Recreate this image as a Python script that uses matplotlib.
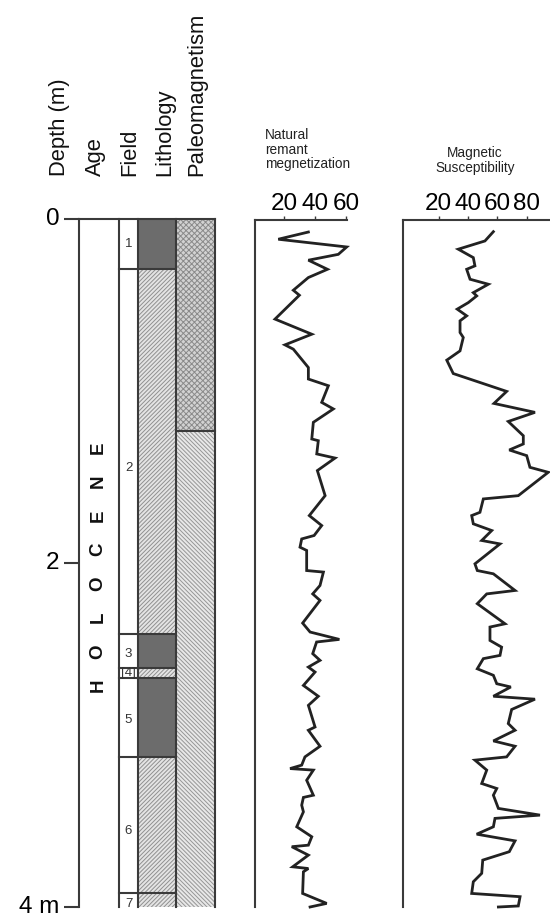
import matplotlib
matplotlib.use('Agg')
import matplotlib.pyplot as plt
from matplotlib.patches import Rectangle

plt.rcParams['font.family'] = ['Liberation Sans', 'DejaVu Sans']
plt.rcParams['hatch.linewidth'] = 0.7

# ---------------- data ----------------
nrm_depth = [0.07, 0.112, 0.157, 0.20, 0.234, 0.287, 0.335, 0.409, 0.438, 0.577, 0.665, 0.727,
             0.752, 0.859, 0.926, 0.965, 1.062, 1.10, 1.178, 1.275, 1.285, 1.362, 1.386, 1.459,
             1.605, 1.721, 1.779, 1.837, 1.857, 1.905, 1.924, 2.041, 2.05, 2.128, 2.177, 2.215,
             2.347, 2.399, 2.442, 2.457, 2.525, 2.564, 2.603, 2.632, 2.71, 2.773, 2.826, 2.952,
             2.971, 3.064, 3.126, 3.174, 3.194, 3.203, 3.262, 3.349, 3.362, 3.407, 3.446, 3.533,
             3.591, 3.64, 3.649, 3.698, 3.766, 3.776, 3.795, 3.921, 3.979, 4.0]
nrm_value = [35.7, 16.3, 60.4, 55.0, 35.7, 48.0, 35.7, 26.0, 29.9, 14.2, 37.9, 20.6,
             26.0, 35.7, 35.7, 48.6, 44.3, 51.8, 38.9, 37.9, 42.1, 41.1, 52.9, 41.5,
             46.5, 36.3, 44.3, 39.4, 31.4, 30.3, 34.6, 34.6, 45.4, 43.2, 38.5, 43.2,
             32.0, 36.8, 55.7, 41.0, 38.5, 43.2, 35.7, 40.0, 32.5, 42.1, 35.7, 40.0,
             35.7, 43.2, 33.5, 31.4, 23.9, 38.9, 34.6, 38.9, 32.5, 31.4, 32.5, 28.2,
             37.9, 35.7, 25.0, 35.7, 25.6, 35.7, 32.5, 32.0, 47.5, 36.8]

ms_depth = [0.068, 0.122, 0.17, 0.219, 0.267, 0.287, 0.345, 0.374, 0.423, 0.442, 0.481, 0.519,
            0.558, 0.587, 0.655, 0.684, 0.762, 0.816, 0.894, 0.998, 1.068, 1.12, 1.173, 1.256,
            1.304, 1.339, 1.372, 1.44, 1.469, 1.605, 1.624, 1.702, 1.721, 1.769, 1.808, 1.866,
            1.886, 2.002, 2.041, 2.06, 2.157, 2.177, 2.234, 2.351, 2.37, 2.448, 2.487, 2.535,
            2.554, 2.613, 2.651, 2.70, 2.719, 2.773, 2.79, 2.85, 2.932, 2.971, 3.033, 3.064,
            3.126, 3.145, 3.203, 3.281, 3.31, 3.349, 3.426, 3.465, 3.484, 3.533, 3.576, 3.615,
            3.678, 3.727, 3.804, 3.853, 3.921, 3.94, 3.994, 4.0]
ms_value = [57.2, 51.5, 33.4, 43.6, 44.7, 39.1, 41.4, 53.8, 43.6, 45.9, 40.2, 32.7,
            39.1, 34.6, 34.6, 36.8, 34.6, 25.6, 30.0, 66.2, 57.6, 85.4, 67.3, 77.5,
            77.5, 68.0, 79.8, 82.0, 94.4, 74.1, 50.4, 48.1, 42.5, 43.6, 56.1, 49.3,
            61.7, 44.7, 46.3, 57.2, 71.9, 52.7, 46.3, 65.1, 54.9, 54.9, 62.8, 61.7,
            50.4, 46.3, 57.2, 59.5, 69.0, 57.2, 85.4, 69.6, 67.3, 71.9, 57.2, 71.9,
            66.2, 44.7, 52.7, 49.3, 59.5, 57.2, 60.6, 88.8, 58.3, 57.2, 45.9, 71.9,
            68.0, 50.0, 49.3, 43.6, 42.5, 75.3, 74.1, 60.6]

field_units = ['1', '2', '3', '[4]', '5', '6', '7']
unit_top = [0.0, 0.29, 2.41, 2.61, 2.67, 3.13, 3.92]
unit_bottom = [0.29, 2.41, 2.61, 2.67, 3.13, 3.92, 4.0]
unit_label_depth = [0.145, 1.45, 2.53, 2.64, 2.91, 3.56, 3.98]
lithology = ['dark', 'hatch', 'dark', 'hatch', 'dark', 'hatch', 'hatch']

paleo_top = [0.0, 1.23]
paleo_bottom = [1.23, 4.0]
paleo_kind = ['dots', 'wavy']

age_letters = list('HOLOCENE')
depth_ticks = [0, 2, 4]
depth_ticklabels = ['0', '2', '4 m']
nrm_ticks = [20, 40, 60]
ms_ticks = [20, 40, 60, 80]

# ---------------- figure ----------------
W, H = 550, 917
fig = plt.figure(figsize=(5.5, 9.17), dpi=100)


def fax(x0, y0, x1, y1):
    return fig.add_axes([x0 / W, 1 - y1 / H, (x1 - x0) / W, (y1 - y0) / H])


LC = '#3a3a3a'
LW = 1.5

# ---- stratigraphic column ----
ax = fax(79, 219, 215, 907)
ax.set_xlim(79, 215)
ax.set_ylim(4, 0)
for s in ['top', 'right', 'bottom']:
    ax.spines[s].set_visible(False)
ax.spines['left'].set_color(LC)
ax.spines['left'].set_linewidth(LW)
ax.set_xticks([])
ax.set_yticks(depth_ticks)
ax.set_yticklabels(depth_ticklabels)
ax.tick_params(axis='y', length=11, width=LW, color=LC, labelsize=17.5, pad=3)
for lab in ax.get_yticklabels():
    lab.set_verticalalignment('center')

xF0, xF1, xL1, xP1 = 119, 138, 176, 215

# lithology fills
for t, b, k in zip(unit_top, unit_bottom, lithology):
    if k == 'dark':
        ax.add_patch(Rectangle((xF1, t), xL1 - xF1, b - t, facecolor='#6c6c6c',
                               edgecolor='none', zorder=1))
    else:
        ax.add_patch(Rectangle((xF1, t), xL1 - xF1, b - t, facecolor='#e4e4e4',
                               edgecolor='#8f8f8f', linewidth=0, hatch='////////', zorder=1))

# paleomagnetism fills
for t, b, k in zip(paleo_top, paleo_bottom, paleo_kind):
    if k == 'dots':
        ax.add_patch(Rectangle((xL1, t), xP1 - xL1, b - t, facecolor='#d2d2d2',
                               edgecolor='#8a8a8a', linewidth=0, hatch='xxxxxx', zorder=1))
    else:
        ax.add_patch(Rectangle((xL1, t), xP1 - xL1, b - t, facecolor='#e8e8e8',
                               edgecolor='#969696', linewidth=0, hatch='\\\\\\\\\\\\\\\\', zorder=1))

# column frame lines
for xv in [xF0, xF1, xL1, xP1]:
    ax.plot([xv, xv], [0, 4], color=LC, lw=LW, clip_on=False, zorder=3)
ax.plot([79, xP1], [0, 0], color=LC, lw=LW, clip_on=False, zorder=3)
for b in unit_bottom[:-1]:
    ax.plot([xF0, xL1], [b, b], color=LC, lw=LW, clip_on=False, zorder=3)
for b in paleo_bottom[:-1]:
    ax.plot([xL1, xP1], [b, b], color=LC, lw=LW, clip_on=False, zorder=3)

# field labels
for lab, d in zip(field_units, unit_label_depth):
    ax.text((xF0 + xF1) / 2, d, lab, ha='center', va='center', fontsize=9.5,
            color='#333333', zorder=4)

# age text
letter_gap = 34 / 172.0
center = 2.02
n = len(age_letters)
for i, ch in enumerate(age_letters):
    d = center + (n - 1) / 2 * letter_gap - i * letter_gap
    ax.text(98, d, ch, rotation=90, ha='center', va='center', fontsize=13.5,
            fontweight='bold', color='#111111', zorder=4)

# header labels
for txt, xc in [('Depth (m)', 59), ('Age', 95), ('Field', 129.5),
                ('Lithology', 165), ('Paleomagnetism', 197)]:
    fig.text(xc / W, 1 - 176 / H, txt, rotation=90, ha='center', va='bottom',
             fontsize=15.8, color='#111111')

# ---- curve panels ----
def curve_panel(x0, x1, xlim, ticks, depth, value):
    a = fax(x0, 220, x1, 907)
    a.set_xlim(*xlim)
    a.set_ylim(4, 0)
    a.spines['right'].set_visible(False)
    a.spines['bottom'].set_visible(False)
    for s in ['left', 'top']:
        a.spines[s].set_color(LC)
        a.spines[s].set_linewidth(LW)
    a.xaxis.tick_top()
    a.set_xticks(ticks)
    a.set_xticklabels([str(t) for t in ticks])
    a.tick_params(axis='x', length=3, width=1.0, color=LC, labelsize=17.5, pad=0.5)
    a.set_yticks([])
    a.plot(value, depth, color='#222222', lw=2.0, clip_on=False,
           solid_joinstyle='miter')
    return a

curve_panel(255, 347, (1.3, 60.6), nrm_ticks, nrm_depth, nrm_value)
curve_panel(403, 550, (-4.07, 95.6), ms_ticks, ms_depth, ms_value)

fig.text(265 / W, 1 - 128 / H, 'Natural\nremant\nmegnetization', ha='left', va='top',
         fontsize=9.8, linespacing=1.05, color='#222222')
fig.text(475 / W, 1 - 146 / H, 'Magnetic\nSusceptibility', ha='center', va='top',
         fontsize=9.8, linespacing=1.05, multialignment='center', color='#222222')

fig.savefig('out.png', dpi=100)
